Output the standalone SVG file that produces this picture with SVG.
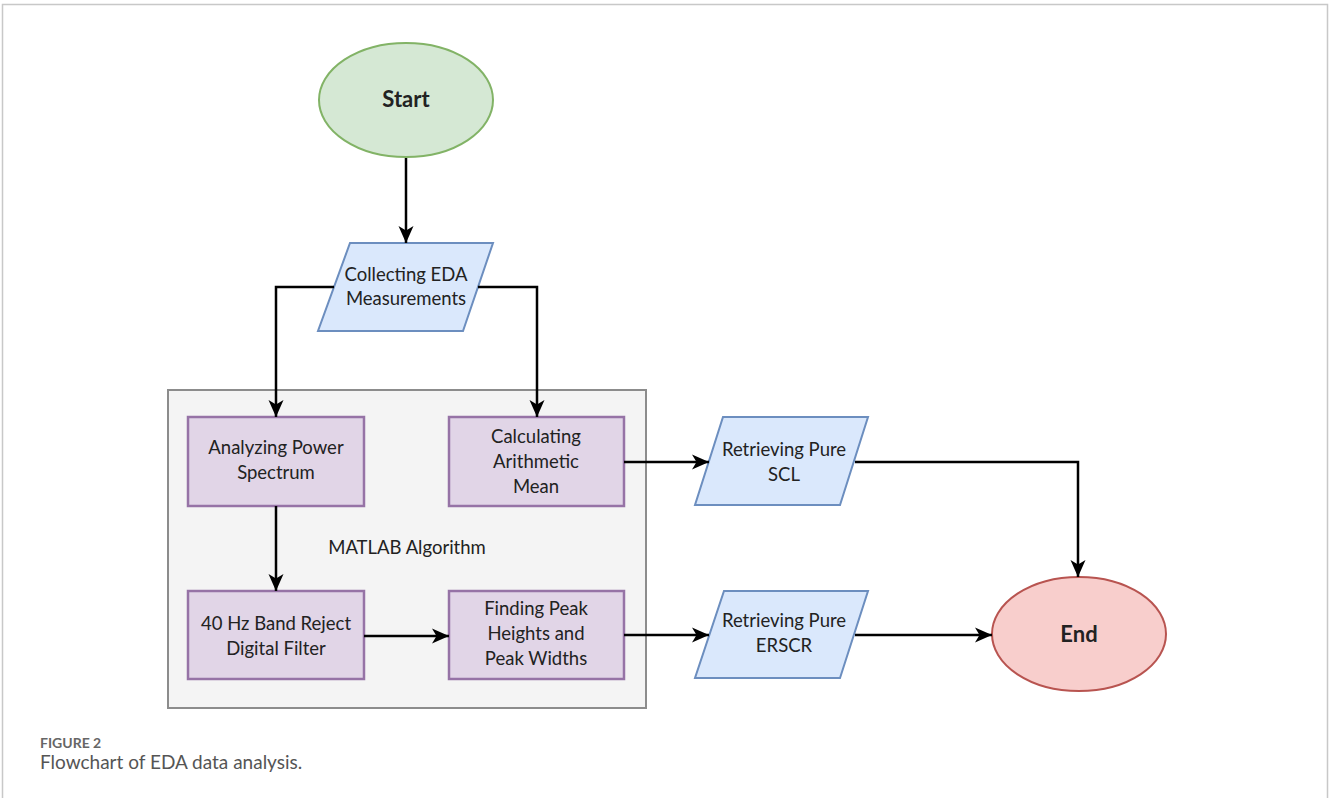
<svg xmlns="http://www.w3.org/2000/svg" width="1330" height="798" viewBox="0 0 1330 798">
<defs>
<marker id="arr" markerUnits="userSpaceOnUse" markerWidth="18" markerHeight="16" refX="17" refY="8" orient="auto">
<path d="M0,0.5 L17,8 L0,15.5 L4.5,8 Z" fill="#000"/>
</marker>
<style>
.t{font-family:Lato,"Open Sans","Liberation Sans",sans-serif;font-size:18.5px;fill:#222;text-anchor:middle}
.b{font-weight:bold;font-size:22px}
.c{fill:none;stroke:#000;stroke-width:2.5;marker-end:url(#arr)}
.proc{fill:#e1d5e7;stroke:#9673a6;stroke-width:2.5}
.io{fill:#dae8fc;stroke:#6c8ebf;stroke-width:2}
</style>
</defs>
<rect x="0" y="0" width="1330" height="798" fill="#fff"/>
<path d="M2.5,798 V4.5 H1327.5 V798" fill="none" stroke="#c8c8c8" stroke-width="1.5"/>
<g id="matlab">
<rect x="168" y="390" width="478" height="318" fill="#f4f4f4" stroke="#8c8c8c" stroke-width="2"/>
<text class="t" x="407" y="554">MATLAB Algorithm</text>
</g>
<g id="start">
<ellipse cx="406" cy="100" rx="87" ry="57" fill="#d5e8d4" stroke="#82b366" stroke-width="2"/>
<text class="t b" x="406" y="107">Start</text>
</g>
<g id="collect">
<polygon class="io" points="350,243 493,243 463,331 318,331"/>
<text class="t" x="406" y="281">Collecting EDA</text>
<text class="t" x="406" y="305">Measurements</text>
</g>
<g id="analyze">
<rect class="proc" x="188" y="417" width="176" height="89"/>
<text class="t" x="276" y="454">Analyzing Power</text>
<text class="t" x="276" y="479">Spectrum</text>
</g>
<g id="mean">
<rect class="proc" x="449" y="417" width="175" height="89"/>
<text class="t" x="536" y="443">Calculating</text>
<text class="t" x="536" y="468">Arithmetic</text>
<text class="t" x="536" y="493">Mean</text>
</g>
<g id="filter">
<rect class="proc" x="188" y="591" width="176" height="88"/>
<text class="t" x="276" y="630">40 Hz Band Reject</text>
<text class="t" x="276" y="655">Digital Filter</text>
</g>
<g id="peaks">
<rect class="proc" x="449" y="591" width="175" height="88"/>
<text class="t" x="536" y="615">Finding Peak</text>
<text class="t" x="536" y="640">Heights and</text>
<text class="t" x="536" y="665">Peak Widths</text>
</g>
<g id="scl">
<polygon class="io" points="723,417 868,417 840,505 695,505"/>
<text class="t" x="784" y="456">Retrieving Pure</text>
<text class="t" x="784" y="481">SCL</text>
</g>
<g id="erscr">
<polygon class="io" points="724,591 868,591 840,678 695,678"/>
<text class="t" x="784" y="627">Retrieving Pure</text>
<text class="t" x="784" y="652">ERSCR</text>
</g>
<g id="end">
<ellipse cx="1079" cy="634" rx="87" ry="57" fill="#f8cecc" stroke="#b85450" stroke-width="2"/>
<text class="t b" x="1079" y="642">End</text>
</g>
<g id="connectors">
<path class="c" d="M406,158 V243"/>
<path class="c" d="M334,287 H276 V417"/>
<path class="c" d="M478,287 H537 V417"/>
<path class="c" d="M276,506 V591"/>
<path class="c" d="M364,636 H449"/>
<path class="c" d="M624,462 H709"/>
<path class="c" d="M855,462 H1078 V577"/>
<path class="c" d="M624,635 H709"/>
<path class="c" d="M855,635 H992"/>
</g>
<g id="caption">
<text x="40" y="748" font-family="Lato,'Open Sans','Liberation Sans',sans-serif" font-size="14" font-weight="bold" fill="#666">FIGURE 2</text>
<text x="40" y="769" font-family="Lato,'Open Sans','Liberation Sans',sans-serif" font-size="19" fill="#555">Flowchart of EDA data analysis.</text>
</g>
</svg>
